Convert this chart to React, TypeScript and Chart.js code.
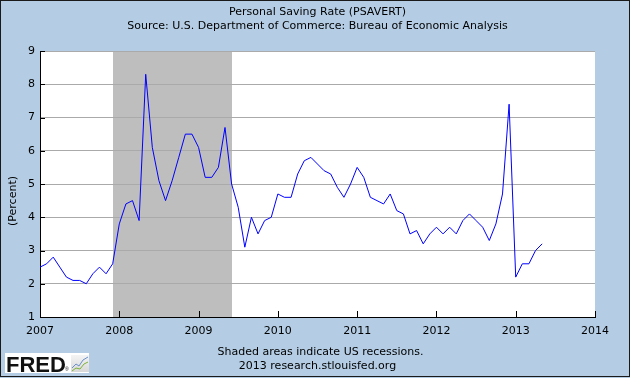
import React, { useEffect, useRef } from "react";
import { Chart, registerables } from "chart.js";

Chart.register(...registerables);

const startYear = 2007;
const savingRate: number[] = [
  2.5, 2.6, 2.8, 2.5, 2.2, 2.1, 2.1, 2.0, 2.3, 2.5, 2.3, 2.6,
  3.8, 4.4, 4.5, 3.9, 8.3, 6.1, 5.1, 4.5, 5.1, 5.8, 6.5, 6.5,
  6.1, 5.2, 5.2, 5.5, 6.7, 5.0, 4.3, 3.1, 4.0, 3.5, 3.9, 4.0,
  4.7, 4.6, 4.6, 5.3, 5.7, 5.8, 5.6, 5.4, 5.3, 4.9, 4.6, 5.0,
  5.5, 5.2, 4.6, 4.5, 4.4, 4.7, 4.2, 4.1, 3.5, 3.6, 3.2, 3.5,
  3.7, 3.5, 3.7, 3.5, 3.9, 4.1, 3.9, 3.7, 3.3, 3.8, 4.7, 7.4,
  2.2, 2.6, 2.6, 3.0, 3.2,
];
const xTickYears: number[] = [2007, 2008, 2009, 2010, 2011, 2012, 2013, 2014];
const yTicks: number[] = [1, 2, 3, 4, 5, 6, 7, 8, 9];
const recessions: [number, number][] = [[2007 + 11 / 12, 2009 + 5 / 12]];

const titleText = "Personal Saving Rate (PSAVERT)";
const subtitleText = "Source: U.S. Department of Commerce: Bureau of Economic Analysis";
const footer1 = "Shaded areas indicate US recessions.";
const footer2 = "2013 research.stlouisfed.org";
const yAxisTitle = "(Percent)";

const BG = "#B4CDE4";
const FONT = '"DejaVu Sans", Verdana, sans-serif';

const decorPlugin = {
  id: "fredDecor",
  beforeDraw(chart: any) {
    const { ctx, chartArea, scales } = chart;
    ctx.save();
    ctx.fillStyle = BG;
    ctx.fillRect(0, 0, chart.width, chart.height);
    ctx.fillStyle = "#FFFFFF";
    ctx.fillRect(chartArea.left, chartArea.top, chartArea.right - chartArea.left, chartArea.bottom - chartArea.top);
    ctx.fillStyle = "#BEBEBE";
    for (const [s, e] of recessions) {
      const x0 = Math.round(scales.x.getPixelForValue(s));
      const x1 = Math.round(scales.x.getPixelForValue(e));
      ctx.fillRect(x0, chartArea.top, x1 - x0, chartArea.bottom - chartArea.top);
    }
    ctx.restore();
  },
  afterDraw(chart: any) {
    const { ctx, chartArea, scales } = chart;
    ctx.save();
    // inside tick marks
    ctx.strokeStyle = "#000";
    ctx.lineWidth = 1;
    ctx.beginPath();
    for (const v of yTicks) {
      const y = Math.round(scales.y.getPixelForValue(v)) + 0.5;
      ctx.moveTo(chartArea.left, y);
      ctx.lineTo(chartArea.left + 5, y);
    }
    for (const v of xTickYears) {
      const x = Math.round(scales.x.getPixelForValue(v)) + 0.5;
      ctx.moveTo(x, chartArea.bottom);
      ctx.lineTo(x, chartArea.bottom - 6);
    }
    ctx.stroke();

    const cx = (chartArea.left + chartArea.right) / 2;
    ctx.fillStyle = "#000";
    ctx.font = `11px ${FONT}`;
    ctx.textAlign = "center";
    ctx.textBaseline = "middle";
    ctx.fillText(titleText, cx, 12);
    ctx.fillText(subtitleText, cx, 26);
    ctx.fillText(footer1, cx + 3, 352);
    ctx.fillText(footer2, cx, 366);

    ctx.save();
    ctx.translate(13, 201);
    ctx.rotate(-Math.PI / 2);
    ctx.fillText(yAxisTitle, 0, 0);
    ctx.restore();

    // FRED logo
    ctx.fillStyle = "#FFFFFF";
    ctx.fillRect(5, 353, 84, 20);
    ctx.fillStyle = "#111";
    ctx.font = 'bold 22px "Liberation Sans", Arial, sans-serif';
    ctx.textAlign = "left";
    ctx.textBaseline = "alphabetic";
    ctx.fillText("FRED", 6, 372);
    ctx.font = '5px "Liberation Sans", sans-serif';
    ctx.fillText("®", 65, 371);
    const g = ctx.createLinearGradient(0, 355, 0, 372);
    g.addColorStop(0, "#F4F4F4");
    g.addColorStop(1, "#D8D8D8");
    ctx.fillStyle = g;
    ctx.fillRect(71, 355, 18, 17);
    ctx.lineWidth = 1;
    ctx.strokeStyle = "#6A8FC8";
    ctx.beginPath();
    ctx.moveTo(72, 368); ctx.lineTo(76, 364); ctx.lineTo(79, 366); ctx.lineTo(83, 360); ctx.lineTo(88, 357);
    ctx.stroke();
    ctx.strokeStyle = "#7DB33C";
    ctx.beginPath();
    ctx.moveTo(72, 371); ctx.lineTo(76, 368); ctx.lineTo(80, 369); ctx.lineTo(84, 364); ctx.lineTo(88, 362);
    ctx.stroke();

    // outer border
    ctx.strokeStyle = "#1A1A1A";
    ctx.lineWidth = 1;
    ctx.strokeRect(0.5, 0.5, chart.width - 1, 376);
    ctx.restore();
  },
};

export default function App() {
  const canvasRef = useRef<HTMLCanvasElement | null>(null);

  useEffect(() => {
    document.body.style.margin = "0";
    const canvas = canvasRef.current;
    if (!canvas) return;
    const points = savingRate.map((v, i) => ({ x: startYear + i / 12, y: v }));
    const chart = new Chart(canvas, {
      type: "line",
      data: {
        datasets: [
          {
            label: "PSAVERT",
            data: points,
            borderColor: "#0000FF",
            borderWidth: 1,
            pointRadius: 0,
            tension: 0,
            fill: false,
          },
        ],
      },
      options: {
        animation: false,
        responsive: false,
        devicePixelRatio: 1,
        layout: { padding: { left: 0, top: 51, right: 35, bottom: 0 } },
        plugins: {
          legend: { display: false },
          title: { display: false },
          tooltip: { enabled: false },
        },
        scales: {
          x: {
            type: "linear",
            min: 2007,
            max: 2014,
            afterFit: (s: any) => { s.height = 61; },
            afterBuildTicks: (s: any) => { s.ticks = xTickYears.map((v) => ({ value: v })); },
            grid: { display: false, drawTicks: false },
            border: { display: true, color: "#000", width: 1 },
            ticks: {
              color: "#000",
              font: { family: FONT, size: 11 },
              padding: 8,
              maxRotation: 0,
              callback: (v: any) => String(v),
            },
          },
          y: {
            type: "linear",
            min: 1,
            max: 9,
            afterFit: (s: any) => { s.width = 40; },
            afterBuildTicks: (s: any) => { s.ticks = yTicks.map((v) => ({ value: v })); },
            grid: { display: true, color: "#AAAAAA", lineWidth: 1, drawTicks: false },
            border: { display: true, color: "#000", width: 1 },
            ticks: {
              color: "#000",
              font: { family: FONT, size: 11 },
              padding: 5,
              callback: (v: any) => String(v),
            },
          },
        },
      },
      plugins: [decorPlugin],
    });
    return () => chart.destroy();
  }, []);

  return (
    <div style={{ position: "absolute", left: 0, top: 0, width: 630, height: 378 }}>
      <canvas ref={canvasRef} width={630} height={378} style={{ width: 630, height: 378, display: "block" }} />
    </div>
  );
}
